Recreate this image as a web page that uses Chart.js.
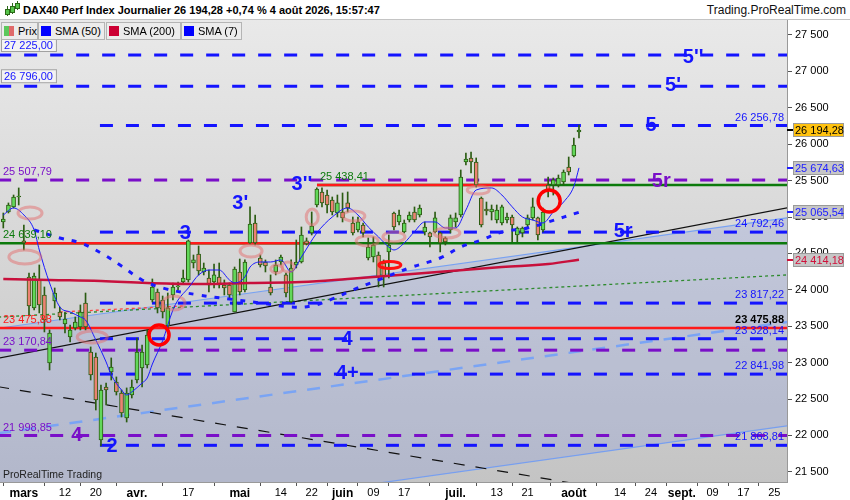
<!DOCTYPE html>
<html lang="fr"><head><meta charset="utf-8">
<title>DAX40 Perf Index Journalier</title>
<script src="https://cdn.jsdelivr.net/npm/chart.js@4.4.1/dist/chart.umd.min.js"></script>
<style>
html,body{margin:0;padding:0;background:#fff;}
#wrap{position:relative;width:850px;height:500px;overflow:hidden;font-family:"Liberation Sans",Arial,sans-serif;}
#c{position:absolute;left:0;top:0;}
#hdr{position:absolute;left:0;top:0;width:850px;height:20px;background:#fff;border-bottom:1px solid #c4c4c4;box-sizing:border-box;}
#title{position:absolute;left:23px;top:4px;font-weight:bold;font-size:11px;color:#000;white-space:nowrap;}
#site{position:absolute;right:4px;top:3px;font-size:12px;color:#111;white-space:nowrap;}
.ic{position:absolute;width:3px;background:#56c44a;border:1px solid #2c6a18;}
.icw{position:absolute;width:1px;background:#2c6a18;}
.leg{position:absolute;top:22px;height:18px;background:#ececec;border:1px solid #b4b4b4;box-sizing:border-box;font-size:11px;line-height:16px;color:#000;}
.sw{position:absolute;left:2px;top:3px;width:10px;height:10px;}
.lt{position:absolute;left:16px;top:0;white-space:nowrap;}
</style></head>
<body>
<div id="wrap">
<canvas id="c" width="850" height="500"></canvas>
<div id="hdr">
  <div class="icw" style="left:7px;top:6px;height:10px"></div><div class="ic" style="left:5px;top:9px;height:4px"></div>
  <div class="icw" style="left:12px;top:3px;height:11px"></div><div class="ic" style="left:10px;top:6px;height:5px"></div>
  <div class="icw" style="left:17px;top:1px;height:9px"></div><div class="ic" style="left:15px;top:3px;height:4px"></div>
  <span id="title">DAX40 Perf Index Journalier 26 194,28 +0,74 % 4 août 2026, 15:57:47</span>
  <span id="site">Trading.ProRealTime.com</span>
</div>
<div class="leg" style="left:1px;width:37px"><span class="sw" style="background:linear-gradient(90deg,#5cc85c 50%,#e06a6a 50%)"></span><span class="lt">Prix</span></div>
<div class="leg" style="left:38px;width:67px"><span class="sw" style="background:#0000ff"></span><span class="lt">SMA (50)</span></div>
<div class="leg" style="left:106px;width:75px"><span class="sw" style="background:#cc0033"></span><span class="lt">SMA (200)</span></div>
<div class="leg" style="left:181px;width:61px"><span class="sw" style="background:#0000ff"></span><span class="lt">SMA (7)</span></div>
</div>
<script>
// ---------------- DATA ----------------
// trading-day index of first candle (0 = 12 mars)
const firstDay = -12;
const opens = [24932,25069,25138,25275,24671,24176,23750,24135,23929,22995,23847,23695,
23531,23352,23476,23489,23819,23146,23077,21937,22665,22871,22734,22583,22240,22555,22761,22926,22967,
23860,23970,23860,23504,23929,24039,24107,24135,24368,24492,24245,24162,24107,24176,24066,24066,23695,24245,23998,
24643,24918,24437,24382,24039,24245,24382,24204,23833,24341,24382,24671,24781,25165,25344,25302,25234,25055,25069,25193,
24918,24822,24890,24437,24451,24478,24368,24520,25055,24932,24794,24959,25069,25028,24794,24781,24794,24781,24712,24822,24932,
25028,25756,25811,25756,25261,25110,25069,24959,24918,24959,25000,24753,24781,24890,24987,24987,24822,25440,25440,25440,25481,25687,25838,26168];
const highs = [25055,25193,25302,25399,24890,24231,24231,24341,24039,23448,24025,23764,
23695,23517,23627,23792,23956,23215,23132,22693,22720,23064,22803,22624,22652,22761,23338,23242,23448,
24149,24011,23915,23956,24094,24107,24272,24684,24478,24602,24368,24272,24355,24368,24135,24094,24313,24423,24410,
25138,25028,24478,24410,24204,24410,24478,24231,24410,24684,24863,24712,25069,25399,25399,25371,25275,25302,25330,25344,
25000,25000,24918,24712,24726,24520,24410,24753,25069,25096,24959,25069,25138,25165,24932,24794,25069,24794,24726,25028,25055,
25646,25879,25893,25811,25275,25206,25165,25165,25165,25055,25028,24863,24863,25028,25261,25000,25124,25550,25536,25577,25646,25824,26085,26264];
const lows = [24849,25055,25124,25165,24547,23654,23723,23682,23421,22899,23750,23585,
23407,23283,23448,23448,23448,22761,22349,21855,22418,22761,22555,22253,22184,22514,22720,22665,22926,
23833,23682,23613,23407,23860,23998,24094,24107,24300,24204,24204,23970,24025,24025,23929,23888,23695,23929,23970,
24629,24616,24313,24245,23929,24204,24341,23901,23819,24300,24368,24616,24753,25138,25138,25055,25028,25000,24932,25069,
24753,24794,24726,24410,24382,24039,24039,24162,24822,24890,24781,24932,24932,25000,24753,24588,24781,24520,24616,24781,24863,
25000,25715,25605,25412,24863,25028,24959,24918,24890,24918,24657,24657,24726,24863,24959,24684,24794,25275,25302,25412,25440,25577,25824,26085];
const closes = [24973,25165,25275,25289,24643,23778,24190,23792,23585,23407,23956,23627,
23599,23448,23558,23695,23489,22830,22487,22624,22624,22940,22597,22308,22583,22665,23146,23146,23379,
24039,23750,23695,23750,24039,24053,24162,24671,24410,24259,24300,24066,24204,24066,24025,23929,24286,23970,24382,
24904,24643,24341,24327,23956,24341,24451,23956,24300,24382,24753,24629,24877,25385,25193,25165,25069,25193,24987,25124,
24781,24932,24781,24588,24616,24176,24176,24616,24863,25028,24918,25028,24959,25124,24863,24726,24987,24643,24657,24987,24987,
25550,25797,25756,25440,24890,25083,25110,25096,25138,25000,24890,24849,24849,24987,25138,24753,25069,25371,25509,25536,25618,25618,25989,26194.28];

const sma7Idx = [-12,-10,-8,-6,-5,-3,-1,1,3,4,6,8,9,11,12,13,15,16,17,19,21,22,24,26,28,30,32,33,35,36,38,40,42,44,46,49,52,55,57,59,61,63,64,66,68,70,72,74,76,78,80,83,85,87,89,91,93,95,97,99,100];
const sma7Val = [25028,25124,25028,24822,24547,24094,23764,23695,23627,23585,23311,23009,22830,22624,22555,22597,22720,22789,22980,23300,23723,23860,24025,24204,24272,24272,24135,24094,24176,24313,24382,24382,24410,24245,24451,24781,25000,25124,25028,24863,24726,24588,24547,24643,24800,24932,24932,24849,24849,25096,25371,25399,25302,25140,25000,24959,24918,25069,25206,25420,25674.63];
const sma50Idx = [-6,-1,3,7,11,15,19,26,32,38,44,48,52,56,61,67,73,77,81,85,90,94,100];
const sma50Val = [24822,24712,24643,24506,24327,24135,24025,23929,23874,23819,23764,23778,23874,23998,24135,24300,24437,24588,24684,24794,24849,24932,25065.54];
const sma200Idx = [-12,-3,7,16,26,36,46,55,65,75,85,94,100];
const sma200Val = [24149,24135,24121,24094,24080,24094,24107,24149,24204,24259,24313,24355,24414.18];

const xTickIdx = [-8,0,6,14,24,34,42,48,54,60,66,76,84,90,99,108,114,120,126,132,138];
const xTickLabels = ['mars','12','20','avr.','17','mai','14','22','juin','09','17','juil.','13','21','août','14','24','sept.','09','17','25'];
const xTickIsMonth = [true,false,false,true,false,true,false,false,true,false,false,true,false,false,true,false,false,true,false,false,false];
const yTickValues = [21500,22000,22500,23000,23500,24000,24500,25000,25500,26000,26500,27000,27500];

// horizontal levels
const dashLevels = [27225.00, 26796.00, 26256.78, 25507.79, 24792.46, 23817.22, 23328.14, 23170.84, 22841.98, 21998.85, 21863.81];
const supportLevels = [23475.88, 25438.41, 24639.10];
// trend lines: value at left end (index -13) and right end (index 141)
const trendStart = {black:23059, blackDash:22669, chanUp:23472, chanLow:20614, chanMid:22029, greenDot:23625};
const trendEnd   = {black:25131, blackDash:20842, chanUp:24992, chanLow:22135, chanMid:23562, greenDot:24206};
const redDotVals = [23695, 23778];
// annotation anchors (index, value)
const ellipseIdx = [-6.8,-7.8,5.3,21.2,36.2,41.2,43.4,48.1,56.2,58.8,64.0,74.3,80.4,63.2];
const ellipseVal = [25055,24451,23352,23819,24533,24286,24313,25000,25014,24671,24726,24781,25371,24341];
const circleIdx = [18.3, 94.2];
const circleVal = [23379, 25220];
const waveText = ["5''","5'","5","5r","5r","3","3'","3''","4","4+","4","2"];
const waveIdx = [122.2,118.3,114.0,116.0,108.6,23.4,34.1,46.1,54.9,54.9,2.3,9.15];
const waveVal = [27198,26827,26264,25508,24808,24794,25193,25454,23338,22858,22006,21868];
const axisMarkVals = [26194.28, 25674.63, 25065.54, 24414.18];

// ---------------- STYLE / BUILD ----------------
const X_MIN = -12.642, X_MAX = 140.47, L = -13, R = 141;
const BLUE = '#1414ff', PURPLE = '#7a0fc8', RED = '#ff1a1a', GREEN = '#0c7a0c';
Chart.defaults.font.family = '"Liberation Sans", Arial, sans-serif';

function fr(v, dec){ const s = v.toFixed(dec); const p = s.split('.'); const i = p[0].replace(/\B(?=(\d{3})+(?!\d))/g,' '); return p[1] ? i + ',' + p[1] : i; }
function seg(v1, v2, from, to, color, width, dash, order){
  return {type:'line', data:[{x:from,y:v1},{x:to,y:v2}], borderColor:color, borderWidth:width, borderDash:dash||[], pointRadius:0, fill:false, order:order, tension:0};
}

const dashStyle = [
  {c:BLUE, from:L}, {c:BLUE, from:L}, {c:BLUE, from:6.8}, {c:PURPLE, from:L}, {c:BLUE, from:6.8}, {c:BLUE, from:6.8},
  {c:BLUE, from:6.8}, {c:PURPLE, from:L}, {c:BLUE, from:6.8}, {c:PURPLE, from:L}, {c:BLUE, from:6.8}
];

const datasets = [];
// channel (lower first, upper filled to it)
datasets.push(seg(trendStart.chanLow, trendEnd.chanLow, L, R, '#78a2f2', 1.2, [], 95));
const up = seg(trendStart.chanUp, trendEnd.chanUp, L, R, '#78a2f2', 1.2, [], 94);
up.fill = '-1'; up.backgroundColor = 'rgba(118,142,228,0.22)';
datasets.push(up);
datasets.push(seg(trendStart.chanMid, trendEnd.chanMid, L, R, '#7aa4f4', 2.5, [13,11], 90));
datasets.push(seg(trendStart.greenDot, trendEnd.greenDot, L, R, '#2e8a2e', 1.3, [3,3], 89));
datasets.push(seg(redDotVals[0], redDotVals[1], -1, 23, '#ff4040', 1.3, [3,3], 88));
datasets.push(seg(trendStart.blackDash, trendEnd.blackDash, L, R, '#111', 1.2, [11,11], 87));
datasets.push(seg(trendStart.black, trendEnd.black, L, R, '#111', 1.2, [], 86));
dashLevels.forEach((v,k)=> datasets.push(seg(v, v, dashStyle[k].from, R, dashStyle[k].c, 3, [13,13], 80)));
// support / resistance lines
datasets.push(seg(supportLevels[0], supportLevels[0], L, R, RED, 2.5, [], 70));
datasets.push(seg(supportLevels[1], supportLevels[1], 49.03, R, GREEN, 2.5, [], 71));
datasets.push(seg(supportLevels[1], supportLevels[1], 49.03, 94.0, RED, 2.5, [], 70));
datasets.push(seg(supportLevels[2], supportLevels[2], L, R, GREEN, 2.5, [], 71));
datasets.push(seg(supportLevels[2], supportLevels[2], -7.78, 47.67, RED, 2.5, [], 70));

// candles
const dayIdx = opens.map((_, k) => firstDay + k);
datasets.push({type:'bar', label:'wick', data: dayIdx.map((x,k)=>({x:x, y:[lows[k], highs[k]]})),
  backgroundColor:'#2b5c12', borderWidth:0, barThickness:1, grouped:false, order:30});
datasets.push({type:'bar', label:'body', data: dayIdx.map((x,k)=>({x:x, y:[opens[k], closes[k]]})),
  backgroundColor: dayIdx.map((_,k)=> closes[k] >= opens[k] ? '#62d85a' : '#ec8272'),
  borderColor:'#2b5c12', borderWidth:1, borderSkipped:false, barThickness:4, minBarLength:1, grouped:false, order:29});

// moving averages
datasets.push({type:'line', data: sma200Idx.map((x,k)=>({x:x,y:sma200Val[k]})), borderColor:'#c8103c', borderWidth:2.5, pointRadius:0, tension:0.4, fill:false, order:10});
datasets.push({type:'line', data: sma50Idx.map((x,k)=>({x:x,y:sma50Val[k]})), borderColor:'#1a1aff', borderWidth:3, borderDash:[5,8], pointRadius:0, tension:0.4, fill:false, order:9});
datasets.push({type:'line', data: sma7Idx.map((x,k)=>({x:x,y:sma7Val[k]})), borderColor:'#1a1aff', borderWidth:1, pointRadius:0, cubicInterpolationMode:'monotone', fill:false, order:8});

const overlay = {
  id:'overlay',
  beforeDraw(chart){
    const {ctx, chartArea:a} = chart;
    ctx.save();
    ctx.fillStyle = '#fff'; ctx.fillRect(0,0,chart.width,chart.height);
    const g = ctx.createLinearGradient(0,a.top,0,a.bottom);
    g.addColorStop(0,'#e9e9e9'); g.addColorStop(1,'#c4c4c4');
    ctx.fillStyle = g; ctx.fillRect(a.left,a.top,a.right-a.left,a.bottom-a.top);
    ctx.restore();
  },
  afterDatasetsDraw(chart){
    const {ctx, chartArea:a, scales:{x:sx, y:sy}} = chart;
    const X = v => sx.getPixelForValue(v), Y = v => sy.getPixelForValue(v);
    ctx.save();
    ctx.beginPath(); ctx.rect(a.left,a.top,a.right-a.left,a.bottom-a.top); ctx.clip();
    // ellipses
    const eR = [[12,6],[16,7],[15,6],[11,7],[11,6],[6,4],[6,5],[6,8],[11,5],[11,5],[11,5],[13,5],[11,4],[11,3.5]];
    ellipseIdx.forEach((ix,k)=>{
      const last = k === ellipseIdx.length-1;
      ctx.beginPath(); ctx.ellipse(X(ix), Y(ellipseVal[k]), eR[k][0], eR[k][1], 0, 0, Math.PI*2);
      ctx.strokeStyle = last ? '#ff1010' : 'rgba(228,110,110,0.5)'; ctx.lineWidth = last ? 3 : 3; ctx.stroke();
    });
    circleIdx.forEach((ix,k)=>{
      ctx.beginPath(); ctx.arc(X(ix), Y(circleVal[k]), k===0?10:11, 0, Math.PI*2);
      ctx.strokeStyle = '#ff0000'; ctx.lineWidth = 3.5; ctx.stroke();
    });
    // level labels
    ctx.font = '11px "Liberation Sans", Arial, sans-serif';
    ctx.textBaseline = 'middle';
    // boxed left labels
    [dashLevels[0], dashLevels[1]].forEach(v=>{
      const t = fr(v,2), w = ctx.measureText(t).width + 6, yy = Y(v) - 10;
      ctx.fillStyle = '#f3f3f3'; ctx.fillRect(a.left+1, yy-7, w, 14);
      ctx.strokeStyle = '#a0a0a0'; ctx.lineWidth = 1; ctx.strokeRect(a.left+1.5, yy-6.5, w, 13);
      ctx.fillStyle = BLUE; ctx.textAlign = 'left'; ctx.fillText(t, a.left+4, yy+0.5);
    });
    const leftLab = [[dashLevels[3],PURPLE],[supportLevels[2],GREEN],[supportLevels[0],RED],[dashLevels[7],PURPLE],[dashLevels[9],PURPLE]];
    ctx.textAlign = 'left';
    leftLab.forEach(([v,c])=>{ ctx.fillStyle = c; ctx.fillText(fr(v,2), a.left+3, Y(v)-8); });
    ctx.fillStyle = GREEN; ctx.fillText(fr(supportLevels[1],2), X(49.6), Y(supportLevels[1])-8);
    const rightLab = [dashLevels[2], dashLevels[4], dashLevels[5], dashLevels[6], dashLevels[8], dashLevels[10]];
    ctx.textAlign = 'right';
    rightLab.forEach(v=>{ ctx.fillStyle = BLUE; ctx.fillText(fr(v,2), a.right-3, Y(v)-8); });
    ctx.font = 'bold 11px "Liberation Sans", Arial, sans-serif';
    ctx.fillStyle = '#000'; ctx.fillText(fr(supportLevels[0],2), a.right-3, Y(supportLevels[0])-8);
    // wave counts
    ctx.font = 'bold 20px "Liberation Sans", Arial, sans-serif';
    ctx.textAlign = 'center';
    const waveColor = [BLUE,BLUE,BLUE,PURPLE,BLUE,BLUE,BLUE,BLUE,BLUE,BLUE,PURPLE,BLUE];
    waveText.forEach((t,k)=>{ ctx.fillStyle = waveColor[k]; ctx.fillText(t, X(waveIdx[k]), Y(waveVal[k])+1); });
    // footer
    ctx.font = '10.5px "Liberation Sans", Arial, sans-serif';
    ctx.textAlign = 'left'; ctx.fillStyle = '#222';
    ctx.fillText('ProRealTime Trading', a.left+3, a.bottom-7);
    ctx.restore();
  },
  afterDraw(chart){
    const {ctx, chartArea:a, scales:{y:sy}} = chart;
    ctx.save();
    ctx.font = '11px "Liberation Sans", Arial, sans-serif';
    ctx.textBaseline = 'middle'; ctx.textAlign = 'left';
    const st = [{bg:'#ffc20e',fg:'#000'},{bg:'#c6c6c6',fg:'#2020ff'},{bg:'#c6c6c6',fg:'#2020ff'},{bg:'#c6c6c6',fg:'#d0103a'}];
    axisMarkVals.forEach((v,k)=>{
      const yy = Math.round(sy.getPixelForValue(v));
      ctx.fillStyle = st[k].bg; ctx.fillRect(a.right+6, yy-7, 51, 14);
      ctx.strokeStyle = '#9a9a9a'; ctx.lineWidth = 1; ctx.strokeRect(a.right+6.5, yy-6.5, 50, 13);
      ctx.strokeStyle = st[k].fg; ctx.lineWidth = 2; ctx.beginPath(); ctx.moveTo(a.right, yy); ctx.lineTo(a.right+6, yy); ctx.stroke();
      ctx.fillStyle = st[k].fg; ctx.fillText(fr(v,2), a.right+8, yy+0.5);
    });
    ctx.restore();
  }
};

new Chart(document.getElementById('c'), {
  type:'bar',
  data:{ datasets: datasets },
  options:{
    responsive:false, animation:false, events:[],
    layout:{ padding:{ top:20, left:0, right:0, bottom:0 } },
    plugins:{ legend:{display:false}, tooltip:{enabled:false} },
    scales:{
      x:{ type:'linear', min:X_MIN, max:X_MAX, offset:false,
        afterFit(s){ s.height = 18; },
        afterBuildTicks(s){ s.ticks = xTickIdx.map(v=>({value:v})); },
        ticks:{ autoSkip:false, maxRotation:0, padding:0, color:'#000',
          callback:(v,i)=> xTickLabels[i],
          font:(c)=> ({ size: xTickIsMonth[c.index] ? 12 : 11, weight: xTickIsMonth[c.index] ? 'bold' : 'normal' }) },
        grid:{ drawOnChartArea:false, drawTicks:true, tickLength:4, color:'#555' },
        border:{ display:true, color:'#999' } },
      y:{ type:'linear', position:'right', min:21360, max:27706,
        afterFit(s){ s.width = 63; },
        afterBuildTicks(s){ s.ticks = yTickValues.map(v=>({value:v})); },
        ticks:{ color:'#000', padding:3, font:{size:11}, callback:(v)=> fr(v,0) },
        grid:{ drawOnChartArea:false, drawTicks:true, tickLength:5, color:'#555' },
        border:{ display:true, color:'#999' } }
    }
  },
  plugins:[overlay]
});
</script>
</body></html>
